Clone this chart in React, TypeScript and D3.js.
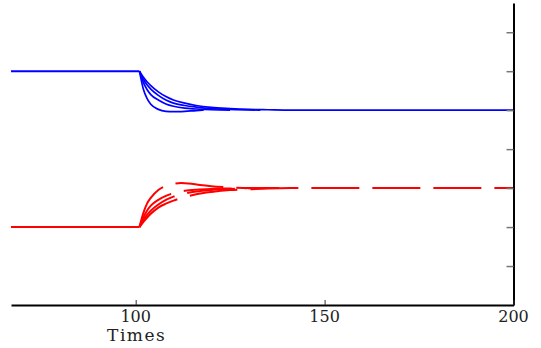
import React, { useEffect, useRef } from 'react';
import * as d3 from 'd3';

// time samples after the step (t = 101)
const blueTimes1 = [101, 102, 103, 104, 106, 108, 110, 113, 116, 118];
const blueVals1 = [6, 5.55, 5.3, 5.15, 5.02, 4.97, 4.96, 4.97, 4.99, 5.0];
const blueTimes2 = [101, 102, 103, 104, 106, 108, 110, 113, 116, 120, 125];
const blueVals2 = [6, 5.72, 5.53, 5.4, 5.26, 5.16, 5.1, 5.05, 5.03, 5.01, 5.0];
const blueTimes3 = [101, 102, 103, 104, 106, 108, 110, 113, 116, 120, 125, 133];
const blueVals3 = [6, 5.8, 5.65, 5.54, 5.38, 5.26, 5.18, 5.12, 5.08, 5.04, 5.02, 5.0];
const blueTimes4 = [101, 102, 103, 104, 106, 108, 110, 113, 116, 120, 125, 130, 135, 141, 200];
const blueVals4 = [6, 5.85, 5.73, 5.63, 5.47, 5.35, 5.26, 5.18, 5.12, 5.07, 5.04, 5.02, 5.01, 5.0, 5.0];

const redTimes1 = [101, 102, 103, 104, 106, 108, 110, 112, 114, 117, 120, 125, 130, 138];
const redVals1 = [2, 2.35, 2.6, 2.75, 2.95, 3.06, 3.11, 3.13, 3.12, 3.08, 3.05, 3.02, 3.0, 3.0];
const redTimes2 = [101, 102, 103, 104, 106, 108, 110, 113, 116, 120, 125, 130];
const redVals2 = [2, 2.24, 2.42, 2.55, 2.7, 2.8, 2.87, 2.93, 2.96, 2.98, 2.99, 3.0];
const redTimes3 = [101, 102, 103, 104, 106, 108, 110, 113, 116, 120, 125, 133];
const redVals3 = [2, 2.17, 2.31, 2.42, 2.58, 2.7, 2.78, 2.86, 2.91, 2.95, 2.98, 3.0];
const redTimes4 = [101, 102, 103, 104, 106, 108, 110, 113, 116, 120, 125, 130, 135, 141, 200];
const redVals4 = [2, 2.13, 2.24, 2.34, 2.5, 2.6, 2.68, 2.77, 2.84, 2.9, 2.95, 2.97, 2.99, 3.0, 3.0];

// before the step
const preTimes = [67, 101];
const bluePre = [6, 6];
const redPre = [2, 2];

const xTicks = [100, 150, 200];
const yTicks = [1, 2, 3, 4, 5, 6, 7];

const App = () => {
  const ref = useRef<SVGSVGElement>(null);

  useEffect(() => {
    const svg = d3.select(ref.current);
    svg.selectAll('*').remove();

    const x = d3.scaleLinear().domain([67, 200]).range([11, 513.5]);
    const y = d3.scaleLinear().domain([0, 7.75]).range([305, 3]);

    const line = d3
      .line<[number, number]>()
      .x((d) => x(d[0]))
      .y((d) => y(d[1]))
      .curve(d3.curveMonotoneX);

    const zip = (t: number[], v: number[]) => t.map((d, i) => [d, v[i]] as [number, number]);

    const blue = [
      zip(blueTimes4, blueVals4),
      zip(blueTimes3, blueVals3),
      zip(blueTimes2, blueVals2),
      zip(blueTimes1, blueVals1),
    ];
    const red = [
      zip(redTimes4, redVals4),
      zip(redTimes3, redVals3),
      zip(redTimes2, redVals2),
      zip(redTimes1, redVals1),
    ];

    const g = svg.append('g');

    g.append('path')
      .attr('d', line(zip(preTimes, bluePre)))
      .attr('fill', 'none')
      .attr('stroke', '#0000ff')
      .attr('stroke-width', 2);

    blue.forEach((s) => {
      g.append('path')
        .attr('d', line(s))
        .attr('fill', 'none')
        .attr('stroke', '#0000ff')
        .attr('stroke-width', 1.7);
    });

    g.append('path')
      .attr('d', line(zip(preTimes, redPre)))
      .attr('fill', 'none')
      .attr('stroke', '#ff0000')
      .attr('stroke-width', 2);

    red.forEach((s) => {
      g.append('path')
        .attr('d', line(s))
        .attr('fill', 'none')
        .attr('stroke', '#ff0000')
        .attr('stroke-width', 2)
        .attr('stroke-dasharray', '48,13');
    });

    // right axis with inward ticks
    const yAxis = svg
      .append('g')
      .attr('transform', `translate(${x(200)},0)`)
      .call(d3.axisLeft(y).tickValues(yTicks).tickSize(7).tickSizeOuter(0).tickFormat(() => ''));
    yAxis.select('.domain').attr('stroke', '#000').attr('stroke-width', 2);
    yAxis.selectAll('.tick line').attr('stroke', '#777').attr('stroke-width', 1.5);

    // bottom axis, ticks pointing up
    const xAxis = svg
      .append('g')
      .attr('transform', `translate(0,${y(0)})`)
      .call(d3.axisTop(x).tickValues(xTicks).tickSize(5).tickSizeOuter(0).tickFormat(() => ''));
    xAxis.select('.domain').attr('stroke', '#000').attr('stroke-width', 2);
    xAxis.selectAll('.tick line').attr('stroke', '#333').attr('stroke-width', 1);

    svg
      .append('g')
      .selectAll('text')
      .data(xTicks)
      .enter()
      .append('text')
      .attr('x', (d) => x(d))
      .attr('y', y(0) + 17)
      .attr('text-anchor', 'middle')
      .attr('font-family', 'DejaVu Serif')
      .attr('font-size', 16)
      .attr('fill', '#222')
      .text((d) => d);

    svg
      .append('text')
      .attr('x', x(100) + 1)
      .attr('y', y(0) + 36)
      .attr('text-anchor', 'middle')
      .attr('font-family', 'DejaVu Serif')
      .attr('font-size', 17)
      .attr('letter-spacing', 1.5)
      .attr('fill', '#222')
      .text('Times');
  }, []);

  return (
    <svg
      ref={ref}
      width={541}
      height={348}
      style={{ position: 'absolute', left: 0, top: 0, background: '#fff' }}
    />
  );
};

export default App;
